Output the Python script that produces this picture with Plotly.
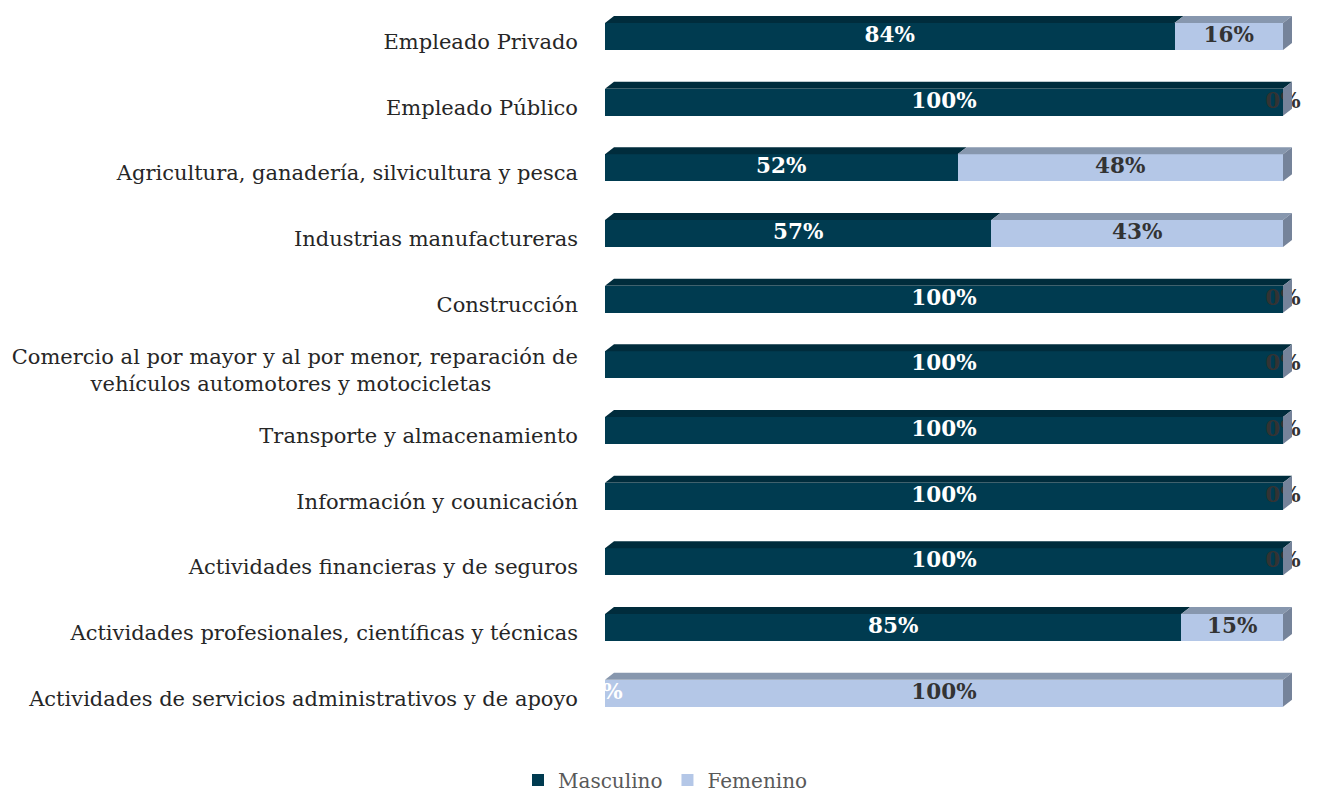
import plotly.graph_objects as go

categorias = [
    "Empleado Privado",
    "Empleado Público",
    "Agricultura, ganadería, silvicultura y pesca",
    "Industrias manufactureras",
    "Construcción",
    "Comercio al por mayor y al por menor, reparación de<br>vehículos automotores y motocicletas" + "\u00a0" * 13,
    "Transporte y almacenamiento",
    "Información y counicación",
    "Actividades financieras y de seguros",
    "Actividades profesionales, científicas y técnicas",
    "Actividades de servicios administrativos y de apoyo",
]
masculino = [84, 100, 52, 57, 100, 100, 100, 100, 100, 85, 0]
femenino = [16, 0, 48, 43, 0, 0, 0, 0, 0, 15, 100]

# colours
c_masc, c_masc_top = "#003b50", "#002c3c"
c_fem, c_fem_top = "#b4c7e7", "#8797ae"
c_side = "#75839a"
font_family = "DejaVu Serif, Liberation Serif, serif"

# layout geometry (pixels); the page body adds an 8px offset
W, H = 1315, 786
ml, mr, mt, mb = 597, 26, 0, 68
plot_w = W - ml - mr
plot_h = H - mt - mb
px_x = 678 / 100                      # pixels per percent point
x_max = plot_w / px_x
n = len(categorias)
y_top = -0.434
px_y = plot_h / (n - 0.5 - y_top)
bar_w = 0.41
dx = 9 / px_x                         # depth of the 3d effect
dy = 7 / px_y

pos = list(range(n))

fig = go.Figure()
fig.add_trace(go.Bar(name="Masculino", y=pos, x=masculino, orientation="h",
                     width=bar_w, marker=dict(color=c_masc, line_width=0),
                     hoverinfo="skip"))
fig.add_trace(go.Bar(name="Femenino", y=pos, x=femenino, orientation="h",
                     width=bar_w, marker=dict(color=c_fem, line_width=0),
                     hoverinfo="skip"))

# 3d faces: top of each segment and right side of each bar
shapes = []
for i in pos:
    top = i - bar_w / 2
    bot = i + bar_w / 2
    segs = [(0, masculino[i], c_masc_top),
            (masculino[i], masculino[i] + femenino[i], c_fem_top)]
    for x0, x1, col in segs:
        if x1 - x0 <= 0:
            continue
        path = (f"M {x0},{top} L {x0 + dx},{top - dy} "
                f"L {x1 + dx},{top - dy} L {x1},{top} Z")
        shapes.append(dict(type="path", path=path, xref="x", yref="y",
                           fillcolor=col, line_width=0, layer="above"))
    end = masculino[i] + femenino[i]
    path = (f"M {end},{top} L {end + dx},{top - dy} "
            f"L {end + dx},{bot - dy} L {end},{bot} Z")
    shapes.append(dict(type="path", path=path, xref="x", yref="y",
                       fillcolor=c_side, line_width=0, layer="above"))

# data labels
fig.add_trace(go.Scatter(
    x=[m / 2 for m in masculino], y=pos, mode="text",
    text=[f"<b>{m}%</b>" for m in masculino],
    textfont=dict(family=font_family, size=21.5, color="white"),
    showlegend=False, hoverinfo="skip", cliponaxis=False))
fig.add_trace(go.Scatter(
    x=[m + f / 2 for m, f in zip(masculino, femenino)], y=pos, mode="text",
    text=[f"<b>{f}%</b>" for f in femenino],
    textfont=dict(family=font_family, size=21.5, color="#333333"),
    showlegend=False, hoverinfo="skip", cliponaxis=False))

fig.update_layout(
    width=W, height=H,
    barmode="stack",
    plot_bgcolor="white", paper_bgcolor="white",
    margin=dict(l=ml, r=mr, t=mt, b=mb),
    shapes=shapes,
    font=dict(family=font_family, color="#404040"),
    xaxis=dict(range=[0, x_max], visible=False, fixedrange=True),
    yaxis=dict(range=[n - 0.5, y_top], tickvals=pos, ticktext=categorias,
               tickfont=dict(family=font_family, size=21, color="#262626"),
               showgrid=False, zeroline=False, showline=False, ticks="",
               ticklabelstandoff=26, ticklabelshift=-5),
    legend=dict(orientation="h", xref="container", yref="container",
                x=0.5, y=14 / H, xanchor="center", yanchor="middle",
                font=dict(family=font_family, size=20, color="#595959"),
                itemwidth=30, traceorder="normal"),
    showlegend=True,
)

fig.write_html("out.html")
